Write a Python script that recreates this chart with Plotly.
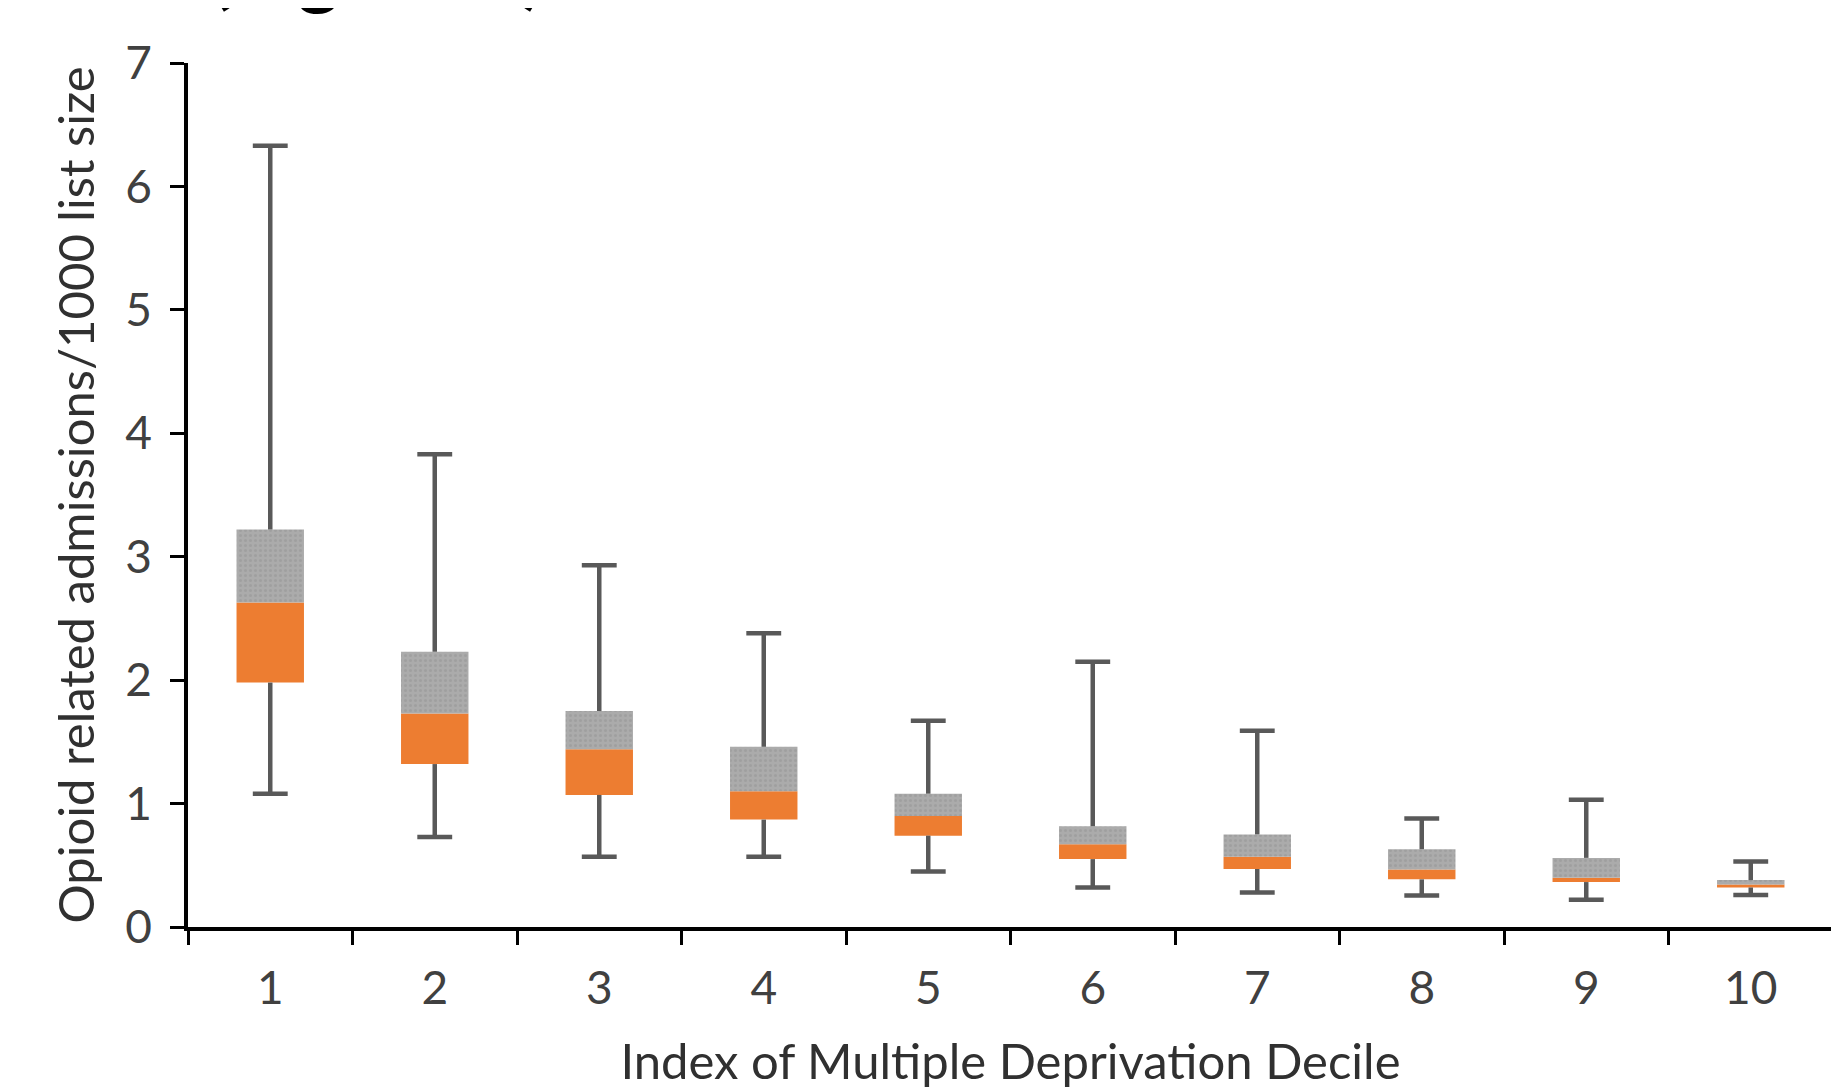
import plotly.graph_objects as go

deciles = [1, 2, 3, 4, 5, 6, 7, 8, 9, 10]
tick_labels = ["1", "2", "3", "4", "5", "6", "7", "8", "9", "10"]
minimum = [1.08, 0.73, 0.57, 0.57, 0.45, 0.32, 0.28, 0.256, 0.22, 0.26]
q1 = [1.98, 1.32, 1.07, 0.87, 0.74, 0.55, 0.47, 0.386, 0.364, 0.32]
median = [2.63, 1.73, 1.44, 1.10, 0.90, 0.67, 0.57, 0.465, 0.40, 0.345]
q3 = [3.22, 2.23, 1.75, 1.46, 1.08, 0.816, 0.75, 0.63, 0.56, 0.38]
maximum = [6.33, 3.83, 2.93, 2.38, 1.67, 2.15, 1.59, 0.88, 1.03, 0.53]

FONT = "Lato"
BOX_W = 0.41
CAP = 0.106

fig = go.Figure()
fig.add_trace(go.Bar(x=deciles, base=q1, y=[m - a for m, a in zip(median, q1)], width=BOX_W,
                     marker=dict(color="#ED7D31", line=dict(width=0)), showlegend=False))
fig.add_trace(go.Bar(x=deciles, base=median, y=[b - m for b, m in zip(q3, median)], width=BOX_W,
                     marker=dict(color="#A5A5A5", line=dict(width=0),
                                 pattern=dict(shape=".", fgcolor="#939393", bgcolor="#ABABAB",
                                              size=5, solidity=0.3)),
                     showlegend=False))

wx, wy = [], []
for x, lo, a, b, hi in zip(deciles, minimum, q1, q3, maximum):
    wx += [x, x, None, x - CAP, x + CAP, None, x, x, None, x - CAP, x + CAP, None]
    wy += [b, hi, None, hi, hi, None, a, lo, None, lo, lo, None]
fig.add_trace(go.Scatter(x=wx, y=wy, mode="lines", line=dict(color="#595959", width=4.5),
                         showlegend=False, hoverinfo="skip"))

fig.add_annotation(text="<b>(Figure 1)</b>", xref="paper", yref="paper", x=0.012, y=1.052,
                   xanchor="left", yanchor="bottom", showarrow=False,
                   font=dict(family=FONT, size=80, color="#000000"))

fig.update_layout(
    width=1827, height=1081, barmode="overlay",
    plot_bgcolor="white", paper_bgcolor="white",
    margin=dict(l=180, r=2, t=55, b=162),
    font=dict(family=FONT, color="#404040", size=46),
    xaxis=dict(range=[0.5, 10.5], tickmode="array", tickvals=deciles, ticktext=tick_labels,
               ticks="", showgrid=False, zeroline=False, showline=True, linecolor="#000000",
               linewidth=3.5, ticklabelstandoff=18, automargin=False,
               tickfont=dict(family=FONT, size=46, color="#404040"),
               minor=dict(tickmode="array", tickvals=[i + 0.5 for i in range(0, 11)],
                          ticks="outside", ticklen=14, tickwidth=3, tickcolor="#000000",
                          showgrid=False),
               title=dict(text="Index of Multiple Deprivation Decile", standoff=34,
                          font=dict(family=FONT, size=49, color="#303030"))),
    yaxis=dict(range=[0, 7], tickmode="array", tickvals=[0, 1, 2, 3, 4, 5, 6, 7],
               ticks="outside", ticklen=14, tickwidth=3, tickcolor="#000000",
               showgrid=False, zeroline=False, showline=True, linecolor="#000000",
               linewidth=3.5, ticklabelstandoff=9, automargin=False,
               tickfont=dict(family=FONT, size=46, color="#404040"),
               title=dict(text="Opioid related admissions/1000 list size", standoff=16,
                          font=dict(family=FONT, size=49, color="#303030"))),
)

fig.write_html("out.html")
